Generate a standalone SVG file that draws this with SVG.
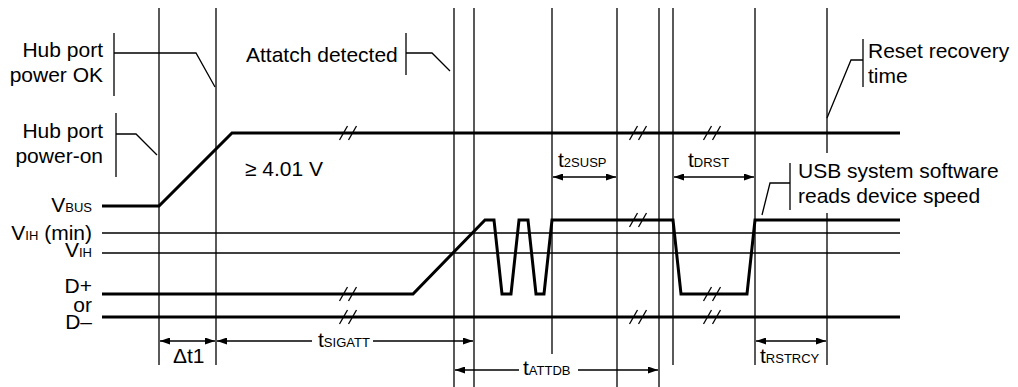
<svg xmlns="http://www.w3.org/2000/svg" width="1018" height="387" viewBox="0 0 1018 387">
<style>
text{font-family:"Liberation Sans",Arial,sans-serif;font-size:21px;fill:#000}
.s{font-size:13px}
.e{text-anchor:end}
.thin{stroke:#000;stroke-width:1.3;fill:none}
.thick{stroke:#000;stroke-width:3;fill:none;stroke-linejoin:miter}
.arr{stroke:#000;stroke-width:1.3;fill:none;marker-end:url(#ah)}
.arr2{stroke:#000;stroke-width:1.3;fill:none;marker-end:url(#ah);marker-start:url(#ah)}
</style>
<defs>
<marker id="ah" markerUnits="userSpaceOnUse" markerWidth="11" markerHeight="7" refX="10" refY="3.5" orient="auto-start-reverse"><path d="M0,0 L10,3.5 L0,7 z" fill="#000"/></marker>
<g id="brk" stroke="#000" stroke-width="1.3"><line x1="-8.5" y1="7" x2="-0.5" y2="-7"/><line x1="0.5" y1="7" x2="8.5" y2="-7"/></g>
</defs>
<rect width="1018" height="387" fill="#fff"/>
<g id="gridlines" class="thin">
<line x1="159" y1="8" x2="159" y2="365"/>
<line x1="216" y1="8" x2="216" y2="365"/>
<line x1="454" y1="8" x2="454" y2="387"/>
<line x1="474" y1="8" x2="474" y2="387"/>
<line x1="552" y1="8" x2="552" y2="354"/>
<line x1="617" y1="8" x2="617" y2="387"/>
<line x1="659" y1="8" x2="659" y2="387"/>
<line x1="673" y1="8" x2="673" y2="365"/>
<line x1="755" y1="8" x2="755" y2="365"/>
<line x1="827" y1="8" x2="827" y2="153"/>
<line x1="827" y1="213" x2="827" y2="365"/>
<line x1="102" y1="233" x2="900" y2="233"/>
<line x1="102" y1="253" x2="900" y2="253"/>
</g>
<g id="signals" class="thick">
<polyline points="102,206 159,206 232,133 900,133"/>
<polyline points="102,294 413,294 485,220 494,220 502,294 511,294 519,220 528,220 536,294 544,294 552,220 673,220 681,294 747,294 755,220 900,220"/>
<line x1="102" y1="317" x2="900" y2="317"/>
</g>
<g id="breaks">
<use href="#brk" x="348" y="133"/>
<use href="#brk" x="638" y="133"/>
<use href="#brk" x="712" y="133"/>
<use href="#brk" x="348" y="294"/>
<use href="#brk" x="638" y="220"/>
<use href="#brk" x="712" y="294"/>
<use href="#brk" x="348" y="317"/>
<use href="#brk" x="638" y="317"/>
<use href="#brk" x="712" y="317"/>
</g>
<g id="callouts" class="thin">
<line x1="114" y1="33" x2="114" y2="96"/>
<polyline points="114,53 196,53 215,87"/>
<line x1="116" y1="113" x2="116" y2="177"/>
<polyline points="116,134 136,134 157,155"/>
<line x1="406" y1="33" x2="406" y2="75"/>
<polyline points="406,53 432,53 450,71"/>
<line x1="863" y1="39" x2="863" y2="87"/>
<polyline points="863,60 851,60 827,118"/>
<line x1="790" y1="163" x2="790" y2="210"/>
<polyline points="790,183 770,183 762,215"/>
</g>
<g id="connectors">
<line class="arr2" x1="160" y1="341" x2="215" y2="341"/>
<line class="arr" x1="312" y1="341" x2="217" y2="341"/>
<line class="arr" x1="373" y1="341" x2="473" y2="341"/>
<line class="arr2" x1="553" y1="177" x2="616" y2="177"/>
<line class="arr2" x1="674" y1="177" x2="754" y2="177"/>
<line class="arr" x1="519" y1="370" x2="455" y2="370"/>
<line class="arr" x1="578" y1="370" x2="658" y2="370"/>
<line class="arr2" x1="756" y1="341" x2="826" y2="341"/>
</g>
<g id="labels">
<g id="hub-ok"><text class="e" x="103" y="57">Hub port</text><text class="e" x="103" y="82">power OK</text></g>
<g id="hub-on"><text class="e" x="103" y="138">Hub port</text><text class="e" x="103" y="163">power-on</text></g>
<g id="attach"><text x="246" y="62">Attatch detected</text></g>
<g id="volt"><text x="245" y="176">≥ 4.01 V</text></g>
<g id="reset"><text x="868" y="58">Reset recovery</text><text x="868" y="83">time</text></g>
<g id="usb"><text x="798" y="178">USB system software</text><text x="798" y="203">reads device speed</text></g>
<g id="left">
<text class="e" x="92" y="212">V<tspan class="s">BUS</tspan></text>
<text class="e" x="92" y="240">V<tspan class="s">IH</tspan> (min)</text>
<text class="e" x="92" y="257">V<tspan class="s">IH</tspan></text>
<text class="e" x="92" y="293">D+</text>
<text class="e" x="92" y="312">or</text>
<text class="e" x="92" y="329">D–</text>
</g>
<g id="timing">
<text x="558" y="167">t<tspan class="s">2SUSP</tspan></text>
<text x="688" y="167">t<tspan class="s">DRST</tspan></text>
<text x="173" y="363">Δt1</text>
<text x="318" y="347">t<tspan class="s">SIGATT</tspan></text>
<text x="523" y="375">t<tspan class="s">ATTDB</tspan></text>
<text x="760" y="363">t<tspan class="s">RSTRCY</tspan></text>
</g>
</g>
</svg>
